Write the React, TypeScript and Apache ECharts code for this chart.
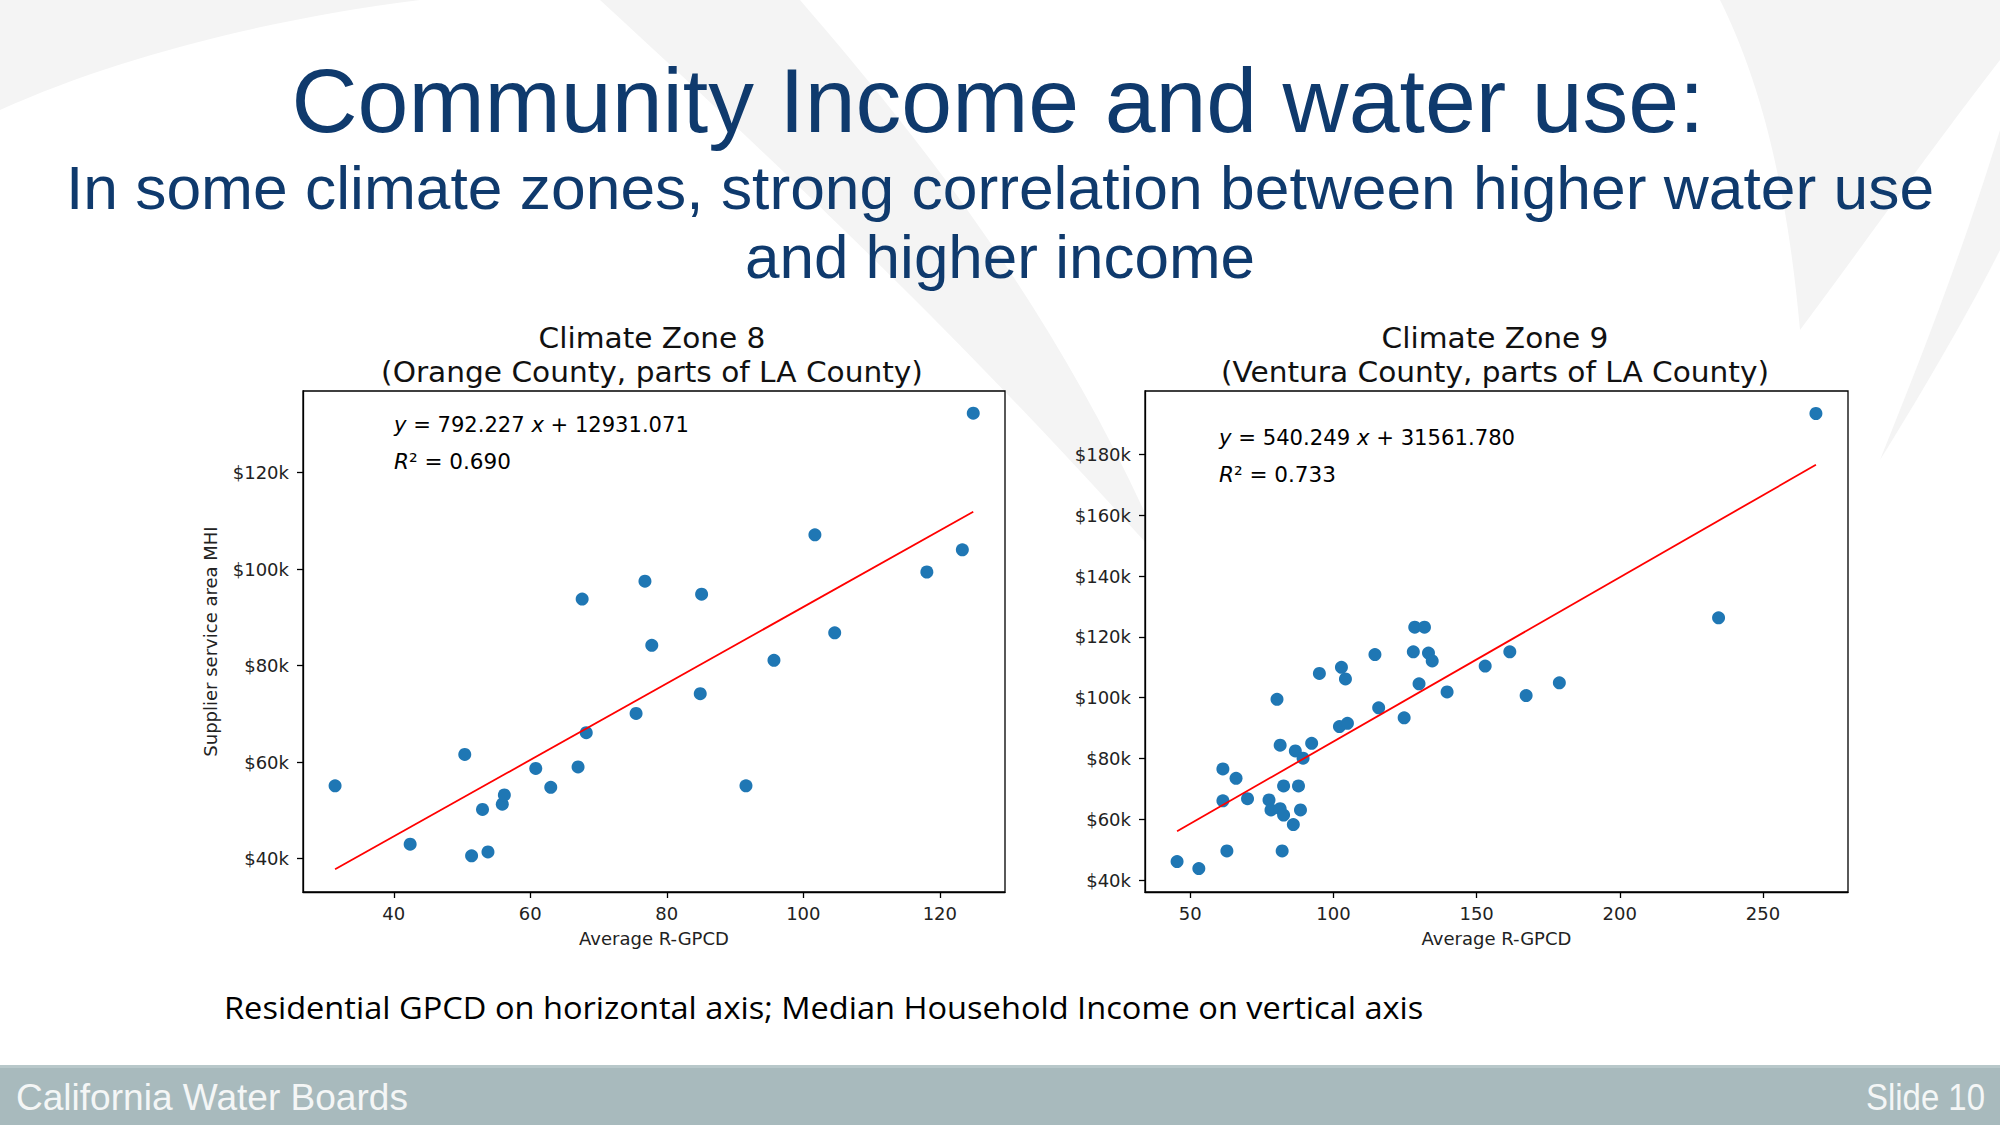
import React, { useEffect, useRef } from "react";
import * as echarts from "echarts";

// ---------- DATA ----------
// Climate Zone 8: Average R-GPCD vs supplier service area MHI ($k)
const zone8Gpcd = [31.4, 42.4, 50.4, 51.4, 53.0, 53.8, 55.9, 56.2, 60.8, 63.0, 67.0, 67.6, 68.2, 75.5, 76.8, 77.8, 84.9, 85.1, 91.6, 95.7, 101.7, 104.6, 118.1, 123.3, 124.9];
const zone8Mhi = [55.1, 43.0, 61.6, 40.6, 50.2, 41.4, 51.3, 53.2, 58.7, 54.8, 59.0, 93.8, 66.1, 70.1, 97.5, 84.2, 74.2, 94.8, 55.1, 81.1, 107.1, 86.8, 99.4, 104.0, 132.3];
const zone8Fit = { slope: 792.227, intercept: 12931.071, r2: "0.690" };

// Climate Zone 9
const zone9Gpcd = [45.4, 53.0, 61.4, 61.4, 62.8, 66.0, 70.0, 77.5, 78.2, 80.3, 81.4, 81.4, 82.1, 82.6, 82.6, 86.0, 86.7, 87.8, 88.5, 89.4, 92.4, 95.1, 102.1, 102.8, 104.2, 104.9, 114.5, 115.8, 124.7, 127.9, 128.4, 129.9, 131.8, 133.2, 134.5, 139.7, 153.0, 161.6, 167.3, 178.9, 234.5, 268.5];
const zone9Mhi = [46.1, 43.8, 76.6, 66.1, 49.6, 73.5, 66.8, 66.4, 63.1, 99.5, 84.4, 63.5, 49.6, 71.0, 61.4, 58.3, 82.5, 71.0, 63.1, 80.1, 85.0, 108.0, 90.5, 110.0, 106.2, 91.6, 114.2, 96.7, 93.4, 115.1, 123.2, 104.6, 123.2, 114.7, 112.1, 101.9, 110.4, 115.1, 100.7, 104.9, 126.3, 193.5];
const zone9Fit = { slope: 540.249, intercept: 31561.78, r2: "0.733" };

// tick values
const zone8XTicks = [40, 60, 80, 100, 120];
const zone8YTicks = [40, 60, 80, 100, 120];
const zone9XTicks = [50, 100, 150, 200, 250];
const zone9YTicks = [40, 60, 80, 100, 120, 140, 160, 180];

// texts
const titleText = "Community Income and water use:";
const subtitleLines = ["In some climate zones, strong correlation between higher water use", "and higher income"];
const chartTitles = [
  ["Climate Zone 8", "(Orange County, parts of LA County)"],
  ["Climate Zone 9", "(Ventura County, parts of LA County)"],
];
const captionText = "Residential GPCD on horizontal axis; Median Household Income on vertical axis";
const footerLeft = "California Water Boards";
const footerRight = "Slide 10";

// ---------- background swoosh shapes ----------
const swooshPaths: Record<string, string> = {
  swooshA: "M0 0 L420 0 C260 20 110 60 0 110 Z",
  swooshB: "M600 0 L800 0 C930 150 1070 330 1170 570 C1010 390 850 230 600 0 Z",
  swooshC: "M1720 0 L2000 0 L2000 60 C1930 150 1860 250 1800 330 C1790 220 1770 100 1720 0 Z",
  swooshD: "M2000 130 C1960 260 1920 360 1880 460 C1930 380 1975 300 2000 250 Z",
};
Object.keys(swooshPaths).forEach((k) => {
  echarts.graphic.registerShape(k, echarts.graphic.extendPath(swooshPaths[k], {}) as any);
});

function measure(text: string, size: number, family: string, style = "normal") {
  const c = document.createElement("canvas").getContext("2d")!;
  c.font = `${style} ${size}px "${family}"`;
  return c.measureText(text).width || 1;
}
function fitScale(text: string, size: number, family: string, target: number) {
  return target / measure(text, size, family);
}

const NAVY = "#0f3a6d";
const DV = "DejaVu Sans";

function textEl(text: string, x: number, y: number, size: number, family: string, fill: string, align: string, target?: number, extra: any = {}) {
  const sx = target ? fitScale(text, size, family, target) : 1;
  return {
    type: "text",
    x,
    y,
    scaleX: sx,
    z: 10,
    style: {
      text,
      fill,
      fontSize: size,
      fontFamily: family,
      align,
      textAlign: align,
      verticalAlign: "middle",
      textVerticalAlign: "middle",
      ...extra,
    },
  };
}

function mathEl(slope: number, intercept: number, x: number, y: number, target: number) {
  const plain = `y = ${slope.toFixed(3)} x + ${intercept.toFixed(3)}`;
  const sx = fitScale(plain, 22, DV, target);
  return {
    type: "text",
    x,
    y,
    scaleX: sx,
    z: 10,
    style: {
      text: `{i|y} = ${slope.toFixed(3)} {i|x} + ${intercept.toFixed(3)}`,
      fill: "#000",
      fontSize: 22,
      fontFamily: DV,
      align: "left",
      textAlign: "left",
      verticalAlign: "middle",
      textVerticalAlign: "middle",
      rich: { i: { fontStyle: "italic", fontSize: 22, fontFamily: DV, fill: "#000" } },
    },
  };
}
function r2El(r2: string, x: number, y: number, target: number) {
  const plain = `R² = ${r2}`;
  const sx = fitScale(plain, 22, DV, target);
  return {
    type: "text",
    x,
    y,
    scaleX: sx,
    z: 10,
    style: {
      text: `{i|R}² = ${r2}`,
      fill: "#000",
      fontSize: 22,
      fontFamily: DV,
      align: "left",
      textAlign: "left",
      verticalAlign: "middle",
      textVerticalAlign: "middle",
      rich: { i: { fontStyle: "italic", fontSize: 22, fontFamily: DV, fill: "#000" } },
    },
  };
}

function trend(xs: number[], fit: { slope: number; intercept: number }) {
  const lo = Math.min(...xs);
  const hi = Math.max(...xs);
  return [
    [lo, (fit.slope * lo + fit.intercept) / 1000],
    [hi, (fit.slope * hi + fit.intercept) / 1000],
  ];
}

const G1 = { left: 303, top: 391, width: 702, height: 501 };
const G2 = { left: 1145, top: 391, width: 703, height: 501 };

function xAxisCfg(gridIndex: number, min: number, max: number, ticks: number[]) {
  return {
    type: "value",
    gridIndex,
    min,
    max,
    name: "Average R-GPCD",
    nameLocation: "middle",
    nameGap: 37,
    nameTextStyle: { fontFamily: DV, fontSize: 18, color: "#222" },
    axisLine: { show: true, lineStyle: { color: "#000", width: 1.3 } },
    axisTick: { show: true, customValues: ticks, length: 6, inside: false, lineStyle: { color: "#000", width: 1.3 } },
    axisLabel: { customValues: ticks, fontFamily: DV, fontSize: 18, color: "#222", margin: 12 },
    splitLine: { show: false },
  };
}
function yAxisCfg(gridIndex: number, min: number, max: number, ticks: number[], name?: string) {
  return {
    type: "value",
    gridIndex,
    min,
    max,
    name: name || "",
    nameLocation: "middle",
    nameGap: 84,
    nameTextStyle: { fontFamily: DV, fontSize: 18, color: "#222" },
    axisLine: { show: true, lineStyle: { color: "#000", width: 1.3 } },
    axisTick: { show: true, customValues: ticks, length: 6, inside: false, lineStyle: { color: "#000", width: 1.3 } },
    axisLabel: {
      customValues: ticks,
      fontFamily: DV,
      fontSize: 18,
      color: "#222",
      margin: 14,
      formatter: (v: number) => `$${Math.round(v)}k`,
    },
    splitLine: { show: false },
  };
}

export default function App() {
  const ref = useRef<HTMLDivElement>(null);
  useEffect(() => {
    document.body.style.margin = "0";
    const chart = echarts.init(ref.current!, null, { renderer: "svg" });
    const gridBase = { show: true, backgroundColor: "#fff", borderColor: "#000", borderWidth: 1.3, containLabel: false };

    const graphics: any[] = [];
    const swooshFill = "#f4f4f4";
    Object.keys(swooshPaths).forEach((k) => {
      graphics.push({ type: k, x: 0, y: 0, z: -10, silent: true, style: { fill: swooshFill, stroke: "none" } });
    });
    // titles
    graphics.push(textEl(titleText, 998, 100, 91, "Liberation Sans", NAVY, "center", 1413));
    graphics.push(textEl(subtitleLines[0], 1000, 188, 62, "Liberation Sans", NAVY, "center", 1868));
    graphics.push(textEl(subtitleLines[1], 1000, 256, 62, "Liberation Sans", NAVY, "center"));
    // chart titles
    graphics.push(textEl(chartTitles[0][0], 652, 338, 29, DV, "#111", "center", 227));
    graphics.push(textEl(chartTitles[0][1], 652, 372, 29, DV, "#111", "center", 542));
    graphics.push(textEl(chartTitles[1][0], 1495, 338, 29, DV, "#111", "center", 227));
    graphics.push(textEl(chartTitles[1][1], 1495, 372, 29, DV, "#111", "center", 548));
    // regression annotations
    graphics.push(mathEl(zone8Fit.slope, zone8Fit.intercept, 394, 424, 295));
    graphics.push(r2El(zone8Fit.r2, 394, 461, 117));
    graphics.push(mathEl(zone9Fit.slope, zone9Fit.intercept, 1219, 437, 296));
    graphics.push(r2El(zone9Fit.r2, 1219, 474, 117));
    // caption
    graphics.push(textEl(captionText, 224, 1007, 31, "Open Sans", "#000", "left", 1200));
    // footer
    graphics.push({ type: "rect", z: 5, shape: { x: 0, y: 1065, width: 2000, height: 60 }, style: { fill: "#a8babd" } });
    graphics.push({ type: "rect", z: 6, shape: { x: 0, y: 1065, width: 2000, height: 3 }, style: { fill: "#b8c8ca" } });
    graphics.push(textEl(footerLeft, 16, 1097, 37, "Liberation Sans", "#f4f6f6", "left", 392));
    graphics.push(textEl(footerRight, 1985, 1097, 37, "Liberation Sans", "#f4f6f6", "right", 119));

    chart.setOption({
      animation: false,
      backgroundColor: "#ffffff",
      grid: [
        { ...gridBase, ...G1 },
        { ...gridBase, ...G2 },
      ],
      xAxis: [xAxisCfg(0, 26.7, 129.55, zone8XTicks), xAxisCfg(1, 34.2, 279.7, zone9XTicks)],
      yAxis: [
        yAxisCfg(0, 33.1, 136.9, zone8YTicks, "Supplier service area MHI"),
        yAxisCfg(1, 36.1, 200.9, zone9YTicks),
      ],
      series: [
        {
          type: "scatter",
          xAxisIndex: 0,
          yAxisIndex: 0,
          symbolSize: 13,
          itemStyle: { color: "#1f77b4", opacity: 1 },
          data: zone8Gpcd.map((x, i) => [x, zone8Mhi[i]]),
        },
        {
          type: "line",
          xAxisIndex: 0,
          yAxisIndex: 0,
          symbol: "none",
          lineStyle: { color: "#ff0000", width: 1.8 },
          data: trend(zone8Gpcd, zone8Fit),
        },
        {
          type: "scatter",
          xAxisIndex: 1,
          yAxisIndex: 1,
          symbolSize: 13,
          itemStyle: { color: "#1f77b4", opacity: 1 },
          data: zone9Gpcd.map((x, i) => [x, zone9Mhi[i]]),
        },
        {
          type: "line",
          xAxisIndex: 1,
          yAxisIndex: 1,
          symbol: "none",
          lineStyle: { color: "#ff0000", width: 1.8 },
          data: trend(zone9Gpcd, zone9Fit),
        },
      ],
      graphic: graphics,
    });
    return () => chart.dispose();
  }, []);
  return <div ref={ref} style={{ position: "absolute", left: 0, top: 0, width: 2000, height: 1125 }} />;
}
